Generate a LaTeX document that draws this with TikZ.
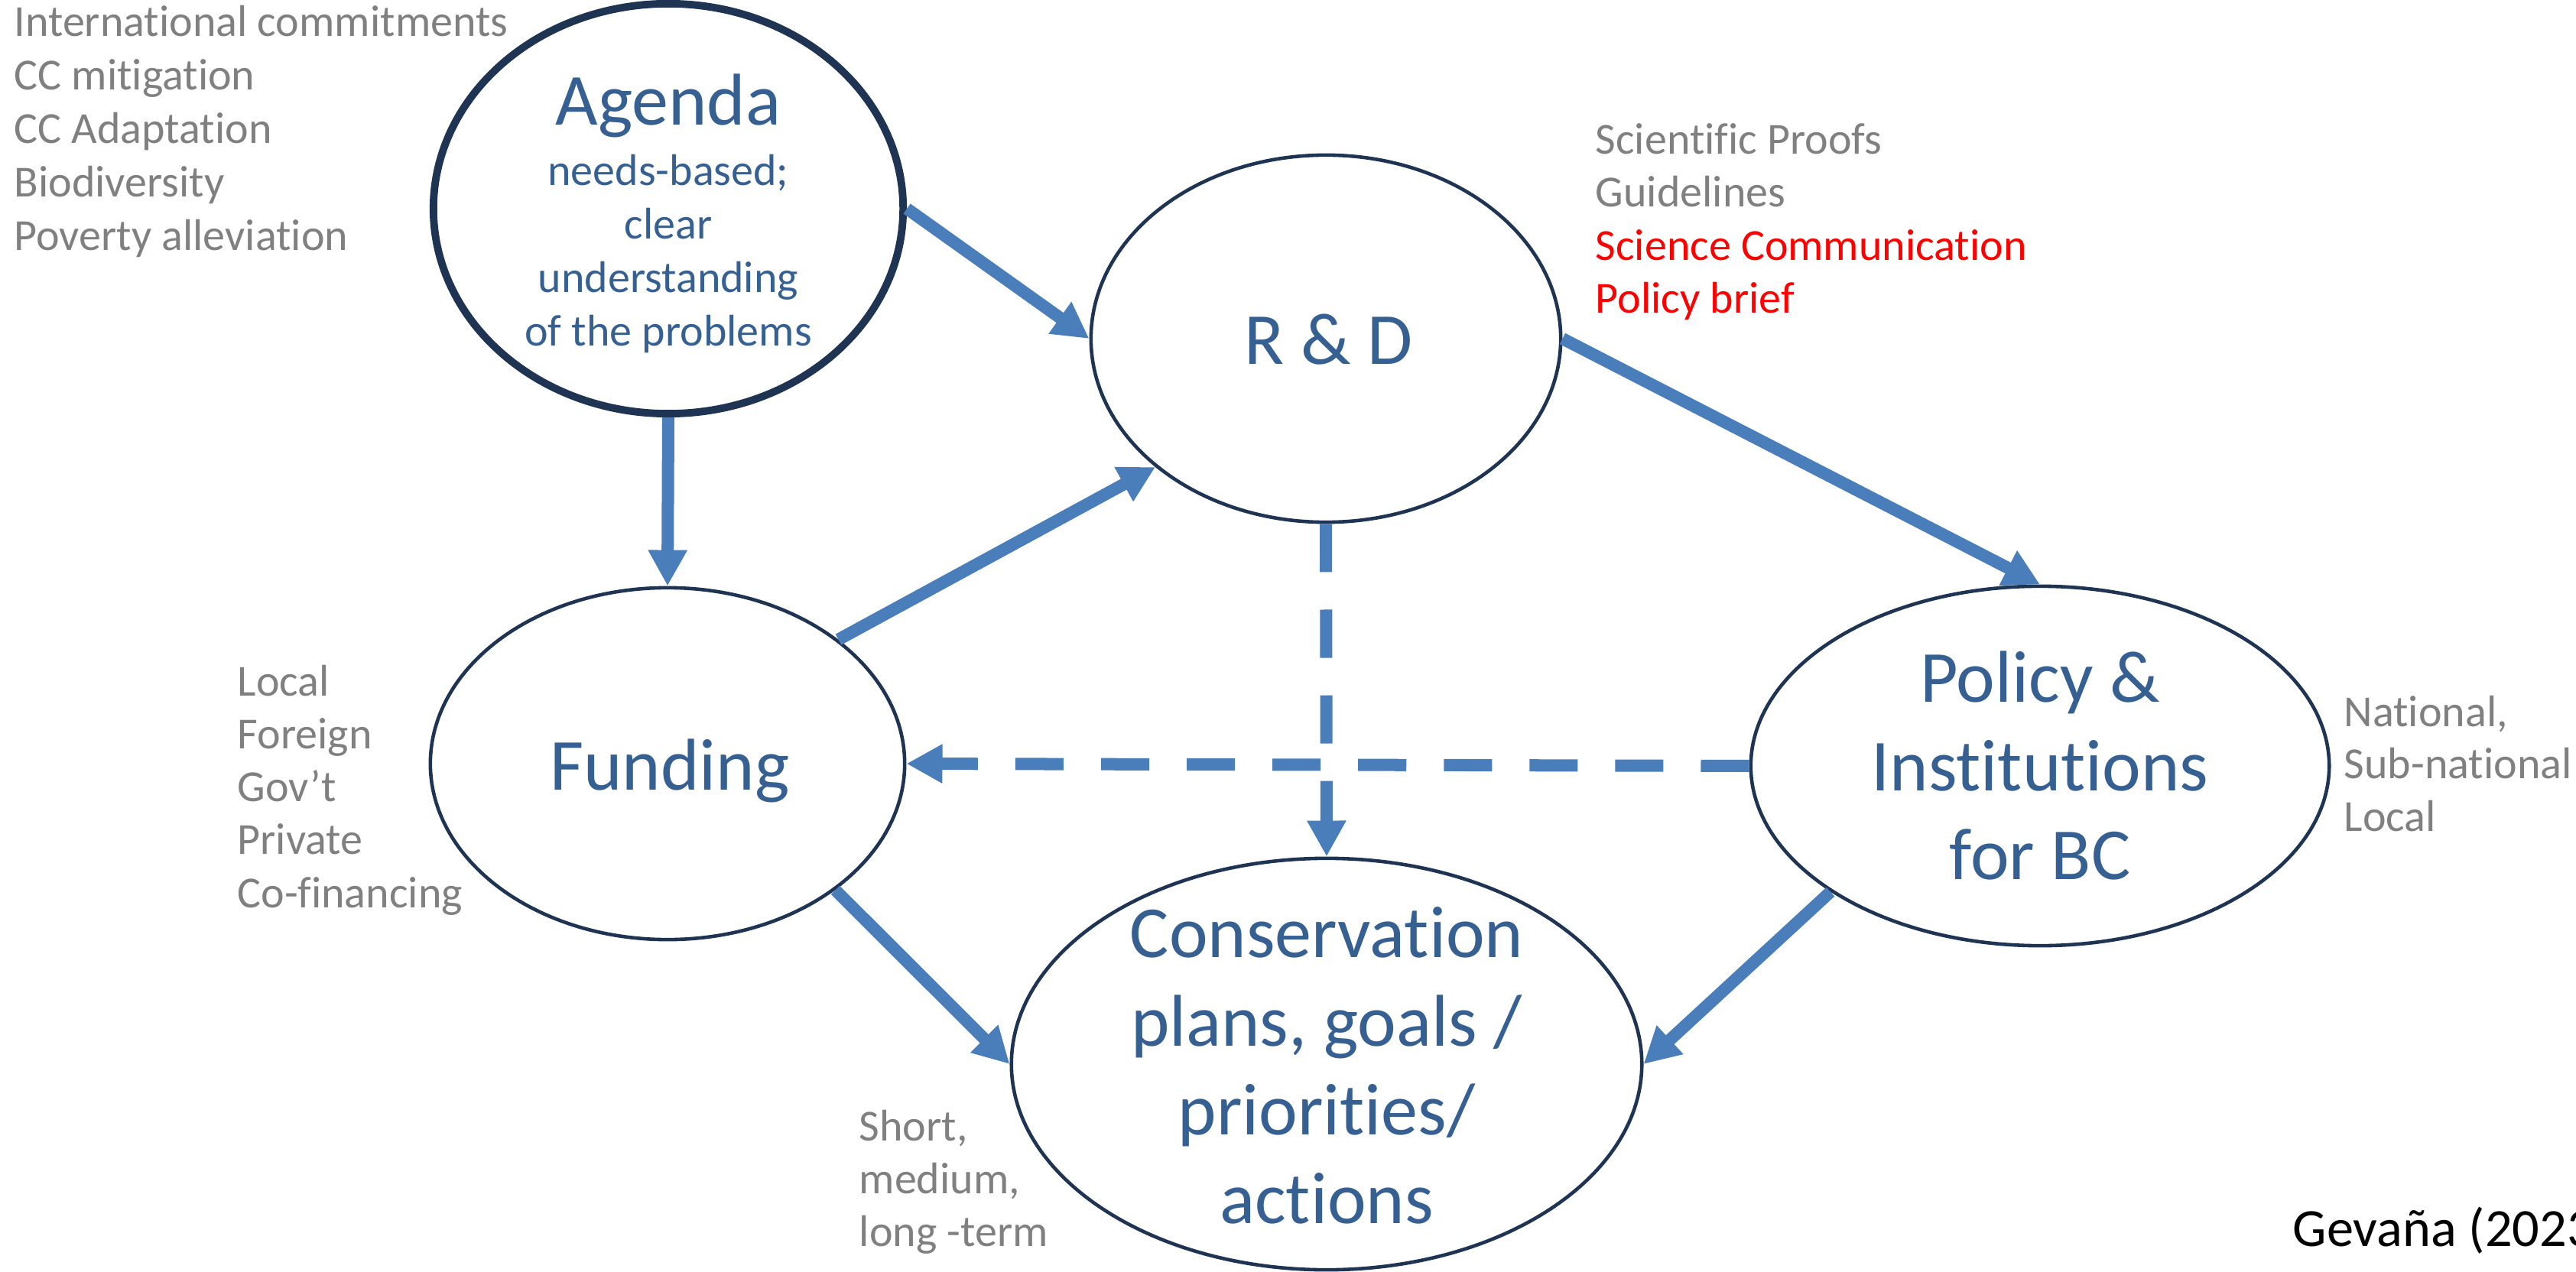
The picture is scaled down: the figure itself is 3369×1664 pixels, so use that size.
\documentclass[tikz,border=0pt]{standalone}
\usepackage{fontspec}
\setmainfont{Carlito}[Ligatures={NoCommon,NoRequired,NoContextual}]
\usetikzlibrary{shapes.geometric,arrows.meta}
\definecolor{navy}{RGB}{31,52,82}
\definecolor{tblue}{RGB}{55,96,146}
\definecolor{ablue}{RGB}{74,126,187}
\definecolor{gtext}{RGB}{128,128,128}
\definecolor{rtext}{RGB}{255,0,0}
\tikzset{
  ell/.style={ellipse, draw=navy, line width=1.3pt, fill=white, inner sep=0pt},
  ttl/.style={font=\fontsize{27.3}{33}\selectfont, text=tblue, inner sep=0pt, anchor=base},
  subt/.style={font=\fontsize{16.5}{20}\selectfont, text=tblue, inner sep=0pt, anchor=base},
  note/.style={font=\fontsize{16.5}{19.7}\selectfont, text=gtext, inner sep=0pt, anchor=base west},
  rnote/.style={note, text=rtext},
  arr/.style={draw=ablue, line width=0.16cm, -{Triangle[length=0.47cm,width=0.48cm]}},
  darr/.style={arr, dash pattern=on 0.63cm off 0.49cm},
}
\begin{document}
\begin{tikzpicture}[x=0.01cm, y=-0.01cm]
\useasboundingbox (0,0) rectangle (3369,1664);
% ellipses
\node[ell, line width=2.8pt, minimum width=6.14cm, minimum height=5.36cm] (agenda) at (874,273) {};
\node[ell, minimum width=6.14cm, minimum height=4.80cm] (rd) at (1734,443) {};
\node[ell, minimum width=6.20cm, minimum height=4.60cm] (funding) at (873,999) {};
\node[ell, minimum width=7.56cm, minimum height=4.70cm] (policy) at (2668,1002) {};
\node[ell, minimum width=8.24cm, minimum height=5.38cm] (cons) at (1735,1392) {};
% connectors
\draw[arr] (agenda.east) -- (rd.west);
\draw[arr] (agenda.south) -- (funding.north);
\draw[arr] (funding.36) -- (rd.217);
\draw[arr] (rd.east) -- (policy.north);
\draw[darr] (rd.south) -- (cons.north);
\draw[darr] (policy.west) -- (funding.east);
\draw[arr] (funding.323) -- (cons.west);
\draw[arr] (policy.211) -- (cons.east);
% titles
\node[ttl] (agT) at (874,164) {Agenda};
\foreach \t [count=\i from 0] in {needs-based;, clear, understanding, of the problems}
  \node[subt] (agS\i) at (874,{243+69.7*\i}) {\t};
\node[ttl] (rdT) at (1738,477) {R \& D};
\node[ttl] (fuT) at (876,1033) {Funding};
\foreach \t [count=\i from 0] in {Policy \&, Institutions, for BC}
  \node[ttl] (poT\i) at (2668,{918+116*\i}) {\t};
\foreach \t [count=\i from 0] in {Conservation, {plans, goals /}, priorities/, actions}
  \node[ttl] (coT\i) at (1735,{1252+116*\i}) {\t};
% side notes
\foreach \t [count=\i from 0] in {International commitments, CC mitigation, CC Adaptation, Biodiversity, Poverty alleviation}
  \node[note] (nA\i) at (18,{48+69.8*\i}) {\t};
\node[note] (nR0) at (2086,202) {Scientific Proofs};
\node[note] (nR1) at (2086,271) {Guidelines};
\node[rnote] (nR2) at (2086,341) {Science Communication};
\node[rnote] (nR3) at (2086,410) {Policy brief};
\foreach \t [count=\i from 0] in {Local, Foreign, Gov’t, Private, Co-financing}
  \node[note] (nF\i) at (310,{910+69.3*\i}) {\t};
\foreach \t [count=\i from 0] in {{National,}, Sub-national, Local}
  \node[note] (nP\i) at (3065,{950+68.5*\i}) {\t};
\foreach \t [count=\i from 0] in {{Short,}, {medium,}, long -term}
  \node[note] (nC\i) at (1123,{1492+69*\i}) {\t};
\node[font=\fontsize{20}{24}\selectfont, text=black, inner sep=0pt, anchor=base west] (cite) at (2998,1630) {Gevaña (2023)};
\end{tikzpicture}
\end{document}
